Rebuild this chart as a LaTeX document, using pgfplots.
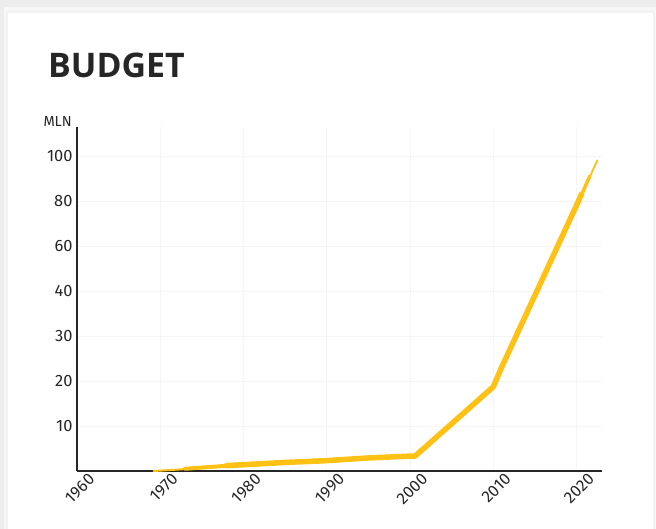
\documentclass[border=0pt]{standalone}
\usepackage{pgfplots}
\pgfplotsset{compat=1.18}
\usepackage{fontspec}
\setmainfont{Fira Sans}
\newfontfamily\titlefont{Open Sans}
\definecolor{bgcol}{HTML}{EDEDED}
\definecolor{linecol}{HTML}{FFC114}
\definecolor{txt}{HTML}{262626}
\begin{document}
\begin{tikzpicture}
\path[use as bounding box, fill=bgcol] (-77bp,-58bp) rectangle (579bp,471bp);
\fill[black!3] (-73bp,-58bp) rectangle (579bp,464bp);
\fill[black!5] (-71bp,-58bp) rectangle (578bp,461bp);
\fill[white] (-69bp,-58bp) rectangle (576bp,458bp);
\begin{axis}[
  at={(0,0)}, anchor=origin,
  scale only axis, width=525bp, height=344bp,
  xmin=1960, xmax=2023.06,
  ymin=0, ymax=112.8,
  y coord trafo/.code={\pgfmathparse{#1<=40 ? #1/10 : 4+(#1-40)/20}},
  axis lines=left,
  axis line style={-, line width=1.6bp, black!85},
  major tick length=0pt,
  xtick={1960,1970,1980,1990,2000,2010,2020},
  xticklabels={1960,1970,1980,1990,2000,2010,2020},
  ytick={10,20,30,40,60,80,100},
  yticklabels={10,20,30,40,60,80,100},
  grid=major,
  major grid style={black!4, line width=0.6bp},
  tick label style={font=\fontsize{16.5}{16.5}\selectfont, text=txt},
  x tick label style={rotate=45, anchor=north east, xshift=10bp, yshift=-5bp},
  y tick label style={xshift=-1bp},
  clip=false,
]
\addplot[linecol, line width=2bp, line cap=round, line join=round]
  coordinates {(1969.2,0) (1972,0.3) (1975,0.7)};
\addplot[linecol, line width=4bp, line cap=round, line join=round]
  coordinates {(1973,0.5) (1976,0.9) (1980,1.4)};
\addplot[linecol, line width=5.5bp, line cap=round, line join=round]
  coordinates {
  (1978,1.2) (1980,1.4) (1985,1.9) (1990,2.3) (1995,2.9) (2000,3.3)
  (2000.6,3.3) (2005,10.5) (2010,18.7) (2011,23) (2012,27) (2013,31)
  (2014,35) (2015,39) (2016,46) (2017,54) (2018,62) (2019,70) (2020,78)
  (2020.6,83)};
\addplot[linecol, line width=3.5bp, line cap=round, line join=round]
  coordinates {(2020.3,80) (2021,86) (2021.6,91)};
\addplot[linecol, line width=1.8bp, line cap=round, line join=round]
  coordinates {(2021.4,89) (2022,94) (2022.5,98)};
\end{axis}
\node[anchor=base west, inner sep=0pt, font=\titlefont\bfseries\fontsize{34}{34}\selectfont, text=txt] at (-29bp,393bp) {BUDGET};
\node[anchor=east, inner sep=0pt, font=\fontsize{14.5}{14.5}\selectfont, text=txt] at (-5bp,349bp) {MLN};
\end{tikzpicture}
\end{document}
